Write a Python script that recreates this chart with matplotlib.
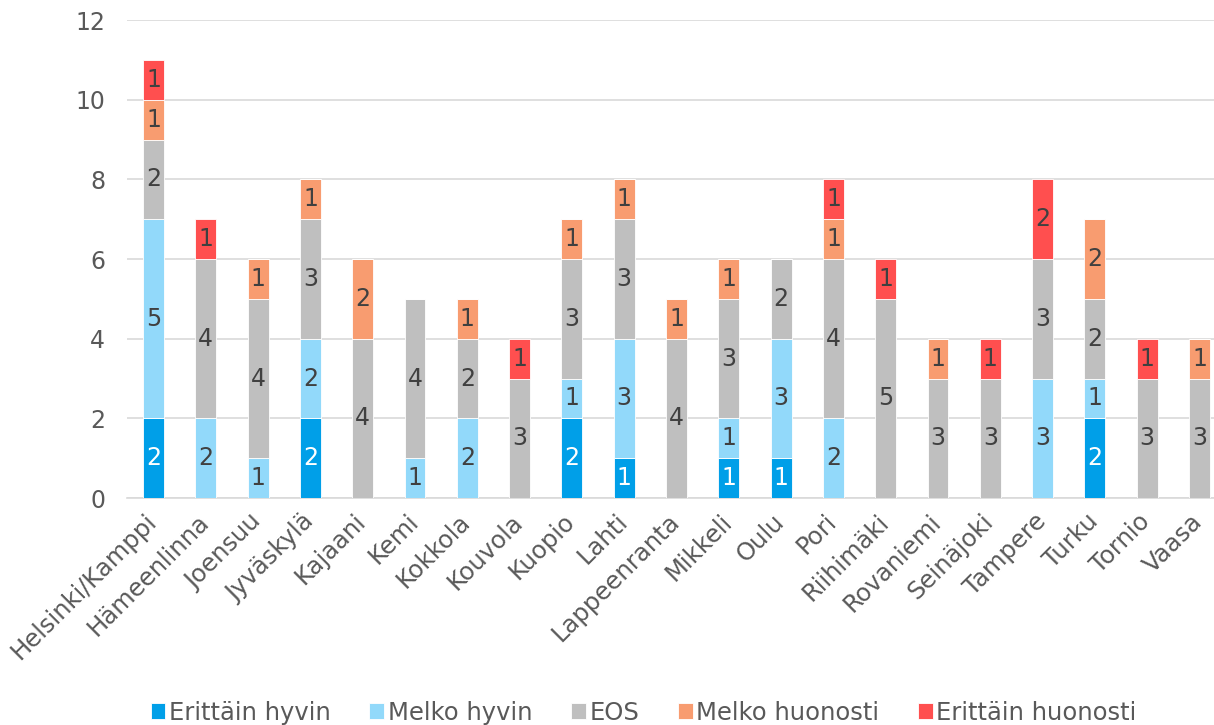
import matplotlib.pyplot as plt
import matplotlib.transforms as mtransforms
import numpy as np

cities = ['Helsinki/Kamppi', 'Hämeenlinna', 'Joensuu', 'Jyväskylä', 'Kajaani', 'Kemi',
          'Kokkola', 'Kouvola', 'Kuopio', 'Lahti', 'Lappeenranta', 'Mikkeli', 'Oulu',
          'Pori', 'Riihimäki', 'Rovaniemi', 'Seinäjoki', 'Tampere', 'Turku', 'Tornio', 'Vaasa']
erittain_hyvin = [2, 0, 0, 2, 0, 0, 0, 0, 2, 1, 0, 1, 1, 0, 0, 0, 0, 0, 2, 0, 0]
melko_hyvin = [5, 2, 1, 2, 0, 1, 2, 0, 1, 3, 0, 1, 3, 2, 0, 0, 0, 3, 1, 0, 0]
eos = [2, 4, 4, 3, 4, 4, 2, 3, 3, 3, 4, 3, 2, 4, 5, 3, 3, 3, 2, 3, 3]
melko_huonosti = [1, 0, 1, 1, 2, 0, 1, 0, 1, 1, 1, 1, 0, 1, 0, 1, 0, 0, 2, 0, 1]
erittain_huonosti = [1, 1, 0, 0, 0, 0, 0, 1, 0, 0, 0, 0, 0, 1, 1, 0, 1, 2, 0, 1, 0]

series = [('Erittäin hyvin', erittain_hyvin, '#009FE8', 'white'),
          ('Melko hyvin', melko_hyvin, '#92D9FA', '#404040'),
          ('EOS', eos, '#BFBFBF', '#404040'),
          ('Melko huonosti', melko_huonosti, '#F89C70', '#404040'),
          ('Erittäin huonosti', erittain_huonosti, '#FF4F4F', '#404040')]

fig = plt.figure(figsize=(12.14, 7.25), dpi=100)
ax = fig.add_axes([0.1049, 0.3131, 0.9047, 0.6593])

x = np.arange(len(cities))
bottom = np.zeros(len(cities))
for name, vals, col, tcol in series:
    vals = np.array(vals)
    ax.bar(x, vals, 0.4, bottom=bottom, color=col, label=name, edgecolor='white', linewidth=0.6, zorder=3)
    for i, v in enumerate(vals):
        if v > 0:
            ax.text(x[i], bottom[i] + v / 2, str(v), ha='center', va='center',
                    fontsize=17, color=tcol, zorder=4)
    bottom += vals

ax.set_xlim(-0.5, len(cities) - 0.5)
ax.set_ylim(0, 12)
ax.set_yticks(range(0, 13, 2))
ax.yaxis.grid(True, color='#D9D9D9', linewidth=1.2, zorder=0)
for s in ['top', 'right', 'left']:
    ax.spines[s].set_visible(False)
ax.spines['bottom'].set_color('#D9D9D9')
ax.spines['bottom'].set_linewidth(1.2)
ax.tick_params(axis='y', length=0, labelsize=17, labelcolor='#595959', pad=16)
ax.tick_params(axis='x', length=0, labelsize=17.5, labelcolor='#595959', pad=4)
ax.set_xticks(x)
ax.set_xticklabels(cities, rotation=45, ha='right', rotation_mode='anchor')
# nudge the rotated labels a little left and down
shift = mtransforms.ScaledTranslation(-0.09, -0.06, fig.dpi_scale_trans)
for lbl in ax.get_xticklabels():
    lbl.set_transform(lbl.get_transform() + shift)

ax.legend(loc='lower center', bbox_to_anchor=(0.47, -0.52), ncol=5, frameon=False,
          fontsize=17.5, labelcolor='#595959', handlelength=0.6, handleheight=0.6,
          handletextpad=0.15, columnspacing=1.6)

fig.savefig('out.png', dpi=100)
